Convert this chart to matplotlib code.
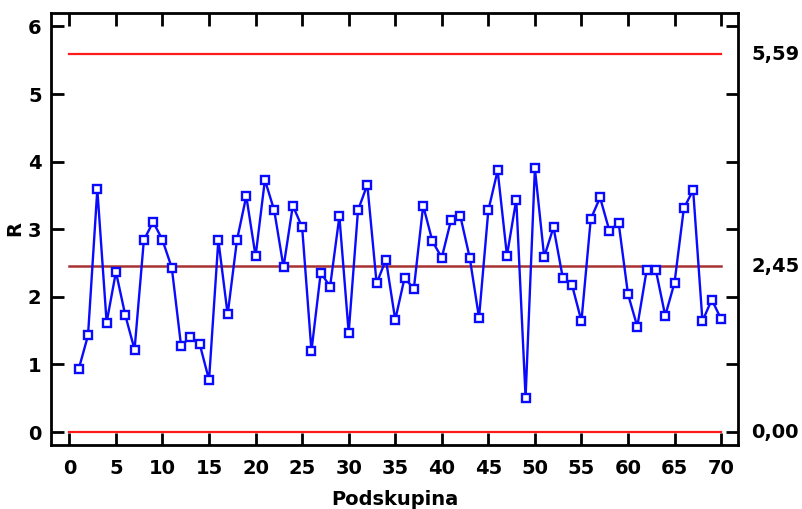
import matplotlib
matplotlib.use("Agg")
import matplotlib.pyplot as plt

plt.rcParams['font.family'] = ['DejaVu Sans']
plt.rcParams['font.weight'] = 'bold'

# R chart data
subgroup = list(range(1, 71))
r_values = [0.93, 1.43, 3.59, 1.62, 2.37, 1.73, 1.22, 2.84, 3.11, 2.84,
            2.43, 1.27, 1.41, 1.30, 0.77, 2.84, 1.74, 2.84, 3.49, 2.60,
            3.73, 3.28, 2.44, 3.35, 3.03, 1.20, 2.36, 2.15, 3.19, 1.47,
            3.28, 3.66, 2.20, 2.55, 1.66, 2.28, 2.12, 3.35, 2.82, 2.58,
            3.14, 3.19, 2.58, 1.69, 3.28, 3.87, 2.61, 3.44, 0.51, 3.90,
            2.59, 3.03, 2.28, 2.17, 1.64, 3.15, 3.47, 2.98, 3.09, 2.04,
            1.56, 2.39, 2.39, 1.72, 2.21, 3.31, 3.58, 1.64, 1.96, 1.67]

ucl = 5.59
center = 2.45
lcl = 0.00
limit_labels = ['5,59', '2,45', '0,00']

fig = plt.figure(figsize=(8.02, 5.09), dpi=100)
ax = fig.add_axes([0.064, 0.126, 0.856, 0.8485])

ax.plot([0, 70], [ucl, ucl], color='#ff1a1a', lw=1.6)
ax.plot([0, 70], [center, center], color='#a83232', lw=1.8)
ax.plot([0, 70], [lcl, lcl], color='#ff1a1a', lw=1.6)

ax.plot(subgroup, r_values, color='#0a0aff', lw=1.7, marker='s', ms=5.6,
        mfc='white', mec='#0a0aff', mew=1.7)

ax.set_xlim(-1.94, 71.8)
ax.set_ylim(-0.19, 6.2)
ax.set_xticks(range(0, 71, 5))
ax.set_yticks(range(0, 7))

for s in ax.spines.values():
    s.set_linewidth(2)

ax.tick_params(direction='in', length=9, width=2, labelsize=14,
               top=True, right=True, pad=10)
ax.tick_params(axis='y', pad=7)

for lbl, val in zip(limit_labels, [ucl, center, lcl]):
    ax.text(1.02, val, lbl, transform=ax.get_yaxis_transform(),
            fontsize=14, fontweight='bold', va='center', ha='left')

ax.set_xlabel('Podskupina', fontsize=14, fontweight='bold', labelpad=9)
ax.set_ylabel('R', fontsize=14, fontweight='bold', labelpad=3)

fig.savefig('out.png', dpi=100)
